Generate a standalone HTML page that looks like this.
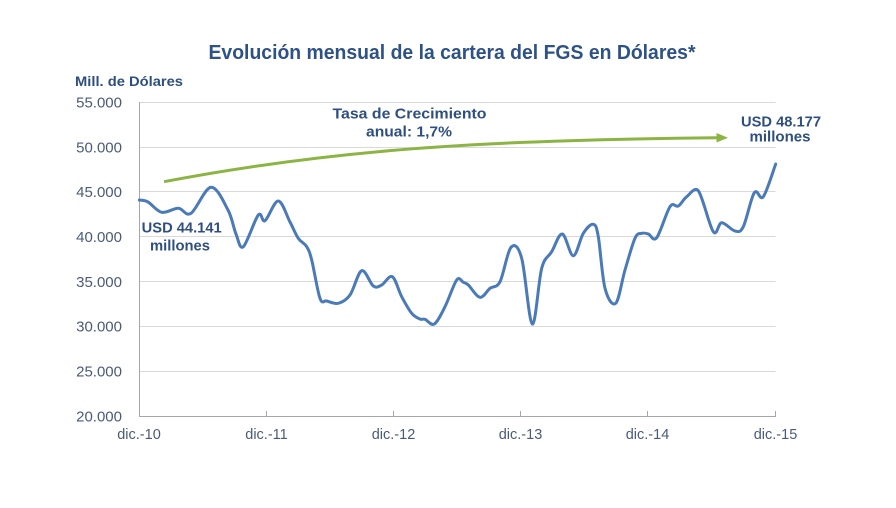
<!DOCTYPE html>
<html>
<head>
<meta charset="utf-8">
<style>
  html, body { margin: 0; padding: 0; background: #ffffff; }
  svg { display: block; }
  text { font-family: "Liberation Sans", Arial, sans-serif; }
</style>
</head>
<body>
<svg width="896" height="508" viewBox="0 0 896 508" xmlns="http://www.w3.org/2000/svg">
  <rect x="0" y="0" width="896" height="508" fill="#ffffff"/>

  <text x="452" y="59" text-anchor="middle" font-size="20" font-weight="bold" fill="#2e5286" textLength="487" lengthAdjust="spacingAndGlyphs">Evolución mensual de la cartera del FGS en Dólares*</text>

  <text x="75" y="86" font-size="13.5" font-weight="bold" fill="#2e4f7e" textLength="108" lengthAdjust="spacingAndGlyphs">Mill. de Dólares</text>

  <g stroke="#d9d9d9" stroke-width="1">
    <line x1="139.5" y1="102.5" x2="775.5" y2="102.5"/>
    <line x1="139.5" y1="147.5" x2="775.5" y2="147.5"/>
    <line x1="139.5" y1="191.5" x2="775.5" y2="191.5"/>
    <line x1="139.5" y1="236.5" x2="775.5" y2="236.5"/>
    <line x1="139.5" y1="281.5" x2="775.5" y2="281.5"/>
    <line x1="139.5" y1="326.5" x2="775.5" y2="326.5"/>
    <line x1="139.5" y1="371.5" x2="775.5" y2="371.5"/>
  </g>

  <g stroke="#a6a6a6" stroke-width="1">
    <line x1="139.5" y1="102" x2="139.5" y2="416.5"/>
    <line x1="139" y1="416.5" x2="776" y2="416.5"/>
    <line x1="266.5" y1="411" x2="266.5" y2="416.5"/>
    <line x1="393.5" y1="411" x2="393.5" y2="416.5"/>
    <line x1="520.5" y1="411" x2="520.5" y2="416.5"/>
    <line x1="647.5" y1="411" x2="647.5" y2="416.5"/>
    <line x1="775.5" y1="411" x2="775.5" y2="416.5"/>
  </g>

  <g font-size="15" fill="#4a5b78" text-anchor="end">
    <text x="122" y="107.5">55.000</text>
    <text x="122" y="152.3">50.000</text>
    <text x="122" y="197.1">45.000</text>
    <text x="122" y="242">40.000</text>
    <text x="122" y="286.8">35.000</text>
    <text x="122" y="331.6">30.000</text>
    <text x="122" y="376.5">25.000</text>
    <text x="122" y="421.3">20.000</text>
  </g>

  <g font-size="14.5" fill="#4a5b78" text-anchor="middle">
    <text x="139" y="439">dic.-10</text>
    <text x="266.5" y="439">dic.-11</text>
    <text x="393.5" y="439">dic.-12</text>
    <text x="520.5" y="439">dic.-13</text>
    <text x="647.5" y="439">dic.-14</text>
    <text x="775.5" y="439">dic.-15</text>
  </g>

  <path fill="none" stroke="#8cb443" stroke-width="3" d="M164,181.7 C330,150 480,140 717,137.8"/>
  <polygon points="716.5,133 728,137.7 716.5,142.5" fill="#8cb443"/>

  <path fill="none" stroke="#4a7ab8" stroke-width="3" stroke-linecap="round" stroke-linejoin="round" d="M139.3,200 C140.75,200.33 144.27,199.95 148,202 C151.73,204.05 156.65,211.25 161.7,212.3 C166.75,213.35 173.42,208.13 178.3,208.3 C183.18,208.47 185.55,216.8 191,213.3 C196.45,209.8 204.83,187.85 211,187.3 C217.17,186.75 223.83,202.22 228,210 C232.17,217.78 233.45,227.88 236,234 C238.55,240.12 239.58,249.87 243.3,246.7 C247.02,243.53 254.68,219.33 258.3,215 C261.92,210.67 261.67,223.03 265,220.7 C268.33,218.37 274.13,200.78 278.3,201 C282.47,201.22 286.67,215.78 290,222 C293.33,228.22 295.52,234.18 298.3,238.3 C301.08,242.42 304.47,243.08 306.7,246.7 C308.93,250.32 309.48,251.4 311.7,260 C313.92,268.6 317.5,291.47 320,298.3 C322.5,305.13 323.65,300.17 326.7,301 C329.75,301.83 334.42,304.3 338.3,303.3 C342.18,302.3 346.1,300.43 350,295 C353.9,289.57 357.82,272.2 361.7,270.7 C365.58,269.2 369.97,283.62 373.3,286 C376.63,288.38 378.53,286.55 381.7,285 C384.87,283.45 388.97,274.75 392.3,276.7 C395.63,278.65 398.47,290.6 401.7,296.7 C404.93,302.8 408.65,309.58 411.7,313.3 C414.75,317.02 417.78,318 420,319 C422.22,320 422.62,318.47 425,319.3 C427.38,320.13 430.97,326.1 434.3,324 C437.63,321.9 441.27,314.03 445,306.7 C448.73,299.37 453.65,284.07 456.7,280 C459.75,275.93 461.37,281.47 463.3,282.3 C465.23,283.13 465.52,282.5 468.3,285 C471.08,287.5 476.38,296.75 480,297.3 C483.62,297.85 486.67,290.9 490,288.3 C493.33,285.7 496.5,288.53 500,281.7 C503.5,274.87 507.38,251.2 511,247.3 C514.62,243.4 518.15,245.52 521.7,258.3 C525.25,271.08 528.97,322.33 532.3,324 C535.63,325.67 538.47,280.35 541.7,268.3 C544.93,256.25 548.27,257.42 551.7,251.7 C555.13,245.98 558.7,233.33 562.3,234 C565.9,234.67 569.8,255.82 573.3,255.7 C576.8,255.58 579.97,238.53 583.3,233.3 C586.63,228.07 590.8,223.73 593.3,224.3 C595.8,224.87 596.35,226.03 598.3,236.7 C600.25,247.37 602.1,277.2 605,288.3 C607.9,299.4 612.37,306.35 615.7,303.3 C619.03,300.25 621.78,280.83 625,270 C628.22,259.17 632.22,244.42 635,238.3 C637.78,232.18 639.48,234.02 641.7,233.3 C643.92,232.58 645.8,233.27 648.3,234 C650.8,234.73 653.08,242.25 656.7,237.7 C660.32,233.15 666.4,211.98 670,206.7 C673.6,201.42 675.52,207.67 678.3,206 C681.08,204.33 683.37,199.25 686.7,196.7 C690.03,194.15 694.5,186.5 698.3,190.7 C702.73,196.53 709.4,226.37 713.3,231.7 C717.2,237.03 718.08,222.82 721.7,222.7 C725.32,222.58 731.4,230.33 735,231 C738.6,231.67 740.08,233.08 743.3,226.7 C746.52,220.32 750.97,197.7 754.3,192.7 C757.63,187.7 759.73,201.48 763.3,196.7 C766.87,191.92 773.63,169.45 775.7,164"/>

  <g font-weight="bold" fill="#2f4f80" text-anchor="middle">
    <text x="409.5" y="118.3" font-size="15" textLength="154" lengthAdjust="spacingAndGlyphs">Tasa de Crecimiento</text>
    <text x="409" y="136.7" font-size="15" textLength="86" lengthAdjust="spacingAndGlyphs">anual: 1,7%</text>
    <text x="781" y="126.5" font-size="14.5" textLength="80" lengthAdjust="spacingAndGlyphs">USD 48.177</text>
    <text x="780" y="141.7" font-size="14.5" textLength="61" lengthAdjust="spacingAndGlyphs">millones</text>
    <text x="181.7" y="232.5" font-size="14.5" textLength="80" lengthAdjust="spacingAndGlyphs">USD 44.141</text>
    <text x="180" y="250.7" font-size="14.5" textLength="60" lengthAdjust="spacingAndGlyphs">millones</text>
  </g>
</svg>
</body>
</html>
